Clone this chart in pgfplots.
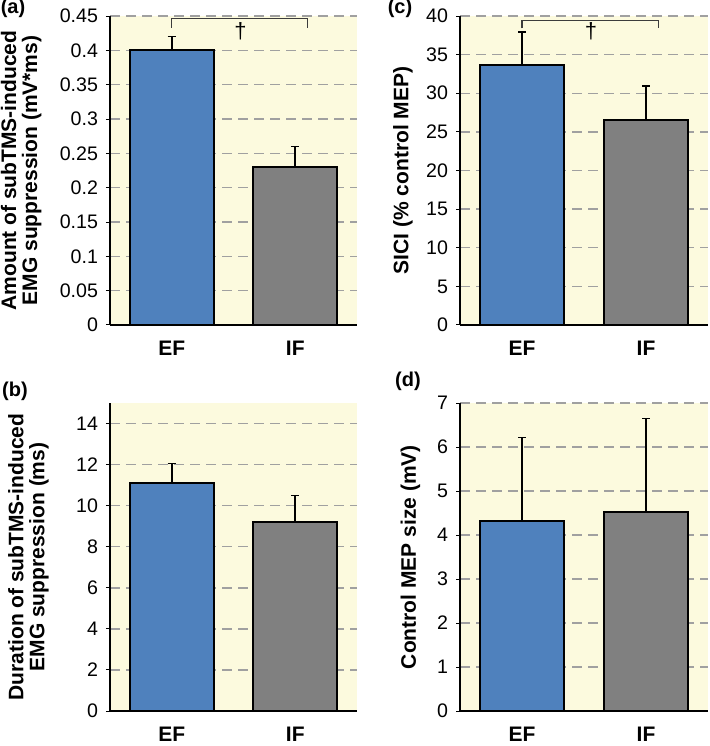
\documentclass[border=0pt]{standalone}
\usepackage{fontspec}
\setmainfont{Liberation Sans}
\usepackage{pgfplots}
\pgfplotsset{compat=1.18}

\definecolor{bgyellow}{RGB}{252,250,222}
\definecolor{barblue}{RGB}{79,129,189}
\definecolor{bargrey}{RGB}{128,128,128}
\definecolor{gridgrey}{RGB}{160,160,160}
\definecolor{brk}{RGB}{60,60,60}

\pgfplotsset{
  panel/.style={
    scale only axis, width=123.5pt, height=154.5pt, anchor=south west,
    axis background/.style={fill=bgyellow},
    axis x line*=bottom, axis y line*=left,
    xmin=-0.5, xmax=1.5, ymin=0,
    xtick={0,1}, xticklabels={EF,IF},
    x tick style={draw=none},
    extra x ticks={-0.5,0.5,1.5}, extra x tick labels={},
    extra x tick style={grid=none, major tick length=3pt,
      tick style={draw=black, line width=0.8pt}},
    tick align=outside, major tick length=2pt,
    y tick style={black, line width=0.5pt},
    ymajorgrids,
    grid style={gridgrey, dash pattern=on 5pt off 3pt, line width=0.7pt},
    x axis line style={line width=0.8pt, -},
    y axis line style={line width=0.6pt, -},
    xticklabel style={font=\fontsize{10.5}{12}\bfseries\selectfont, yshift=-2.5pt},
    yticklabel style={font=\fontsize{9.8}{11}\selectfont, xshift=-0.5pt,
      /pgf/number format/fixed, /pgf/number format/precision=2},
    /pgf/number format/assume math mode=true,
    ylabel style={font=\fontsize{10.5}{10.5}\bfseries\selectfont,
      align=center, anchor=center},
  },
  bars/.style={ybar, bar width=0.68, bar shift=0pt, draw=black, line width=0.9pt,
    error bars/y dir=plus, error bars/y explicit,
    error bars/error bar style={line width=0.8pt, black},
    error bars/error mark options={rotate=90, line width=0.8pt, mark size=2pt, black}},
}

\begin{document}
\begin{tikzpicture}
\useasboundingbox (0,0) rectangle (354.5pt,373pt);

% (a) amount of suppression
\begin{axis}[panel, at={(55pt,210.5pt)},
    ymax=0.45, ytick={0,0.05,...,0.46},
    ylabel={Amount of subTMS-induced\\EMG suppression (mV*ms)},
    ylabel style={at={(axis description cs:-0.36,0.5)}}]
\addplot[bars, fill=barblue] coordinates {(0,0.40) +- (0,0.02)};
\addplot[bars, fill=bargrey] coordinates {(1,0.23) +- (0,0.03)};
\draw[brk, line width=0.6pt] (axis cs:0,0.433) -- (axis cs:0,0.4467)
  -- (axis cs:1.1,0.4467) -- (axis cs:1.1,0.433);
\node[anchor=north, inner sep=0pt, font=\fontsize{11}{12}\selectfont]
  at (axis cs:0.556,0.441) {†};
\end{axis}

% (c) SICI
\begin{axis}[panel, at={(230pt,210.5pt)}, width=124pt,
    ymax=40, ytick={0,5,...,40},
    ylabel={SICI (\% control MEP)},
    ylabel style={at={(axis description cs:-0.23,0.5)}}]
\addplot[bars, fill=barblue] coordinates {(0,33.7) +- (0,4.2)};
\addplot[bars, fill=bargrey] coordinates {(1,26.5) +- (0,4.4)};
\draw[brk, line width=0.6pt] (axis cs:0,38.4) -- (axis cs:0,39.4)
  -- (axis cs:1.1,39.4) -- (axis cs:1.1,38.4);
\node[anchor=north, inner sep=0pt, font=\fontsize{11}{12}\selectfont]
  at (axis cs:0.556,39.15) {†};
\end{axis}

% (b) duration of suppression
\begin{axis}[panel, at={(55pt,17.5pt)}, height=154pt,
    ymax=15, ytick={0,2,...,14},
    ylabel={Duration of subTMS-induced\\EMG suppression (ms)},
    ylabel style={at={(axis description cs:-0.33,0.5)}}]
\addplot[bars, fill=barblue] coordinates {(0,11.1) +- (0,0.95)};
\addplot[bars, fill=bargrey] coordinates {(1,9.2) +- (0,1.3)};
\end{axis}

% (d) control MEP size
\begin{axis}[panel, at={(230pt,17.5pt)}, width=124pt, height=154pt,
    ymax=7, ytick={0,1,...,7},
    ylabel={Control MEP size (mV)},
    ylabel style={at={(axis description cs:-0.20,0.5)}}]
\addplot[bars, fill=barblue] coordinates {(0,4.32) +- (0,1.90)};
\addplot[bars, fill=bargrey] coordinates {(1,4.53) +- (0,2.12)};
\end{axis}

\node[font=\fontsize{10}{12}\bfseries\selectfont] at (6.5pt,369pt) {(a)};
\node[font=\fontsize{10}{12}\bfseries\selectfont] at (200pt,369pt) {(c)};
\node[font=\fontsize{10}{12}\bfseries\selectfont] at (7.5pt,177.5pt) {(b)};
\node[font=\fontsize{10}{12}\bfseries\selectfont] at (204pt,182.5pt) {(d)};
\end{tikzpicture}
\end{document}
